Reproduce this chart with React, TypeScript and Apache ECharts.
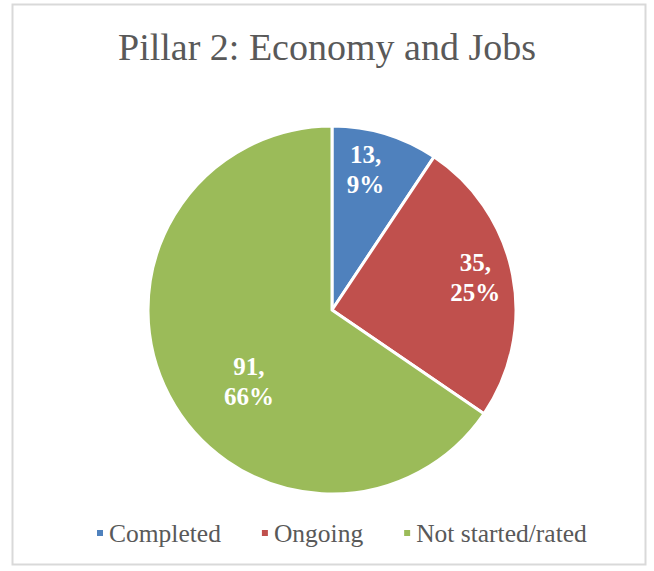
import React, { useEffect, useRef } from "react";
import * as echarts from "echarts";

const categories = ["Completed", "Ongoing", "Not started/rated"];
const values = [13, 35, 91];
const percents = ["9%", "25%", "66%"];
const colors = ["#4F81BD", "#C0504D", "#9BBB59"];
const labelOffsets = [[6, -50], [50, -14], [1, 27]];

const FONT = "'Liberation Serif', 'DejaVu Serif', serif";

export default function App() {
  const ref = useRef<HTMLDivElement>(null);
  useEffect(() => {
    const chart = echarts.init(ref.current!, undefined, { renderer: "svg" });
    chart.setOption({
      animation: false,
      backgroundColor: "#ffffff",
      title: {
        text: "Pillar 2: Economy and Jobs",
        left: "center",
        top: 23,
        textStyle: { fontFamily: FONT, fontSize: 38, fontWeight: "normal", color: "#595959" },
      },
      legend: {
        data: categories,
        bottom: 20,
        left: 90,
        itemWidth: 8,
        itemHeight: 8,
        itemGap: 39,
        icon: "rect",
        textStyle: { fontFamily: FONT, fontSize: 25.5, color: "#595959" },
      },
      graphic: [
        {
          type: "rect",
          shape: { x: 12.5, y: 4.5, width: 633, height: 560 },
          style: { fill: "none", stroke: "#d9d9d9", lineWidth: 2 },
          silent: true,
        },
      ],
      series: [
        {
          type: "pie",
          center: [332, 310],
          radius: [0, 184],
          startAngle: 90,
          clockwise: true,
          itemStyle: { borderColor: "#ffffff", borderWidth: 3 },
          label: {
            show: true,
            position: "inside",
            color: "#ffffff",
            fontFamily: FONT,
            fontWeight: "bold",
            fontSize: 25,
            lineHeight: 30,
            align: "center",
          },
          labelLine: { show: false },
          data: categories.map((c, i) => ({
            name: c,
            value: values[i],
            itemStyle: { color: colors[i] },
            label: {
              formatter: `${values[i]},\n${percents[i]}`,
              offset: labelOffsets[i],
            },
          })),
        },
      ],
    });
    return () => chart.dispose();
  }, []);
  return (
    <div
      ref={ref}
      style={{ position: "absolute", left: 0, top: 0, width: 654, height: 571 }}
    />
  );
}
